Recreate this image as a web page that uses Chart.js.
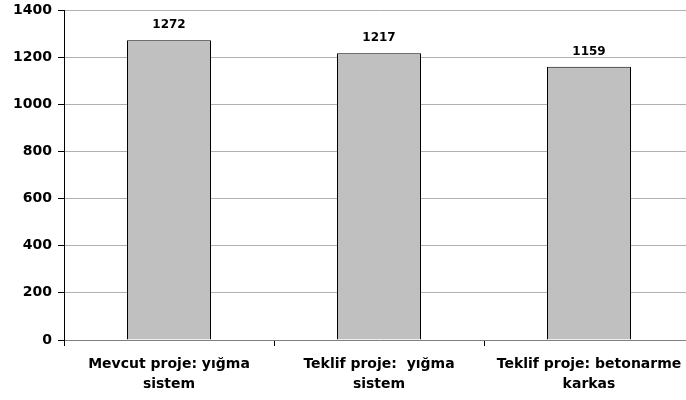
<!DOCTYPE html>
<html>
<head>
<meta charset="utf-8">
<script src="https://cdn.jsdelivr.net/npm/chart.js@4/dist/chart.umd.min.js"></script>
<style>
html,body{margin:0;padding:0;background:#fff;overflow:hidden;width:686px;height:400px;}
#wrap{width:694px;height:400px;}
</style>
</head>
<body>
<div id="wrap"><canvas id="c" width="694" height="400"></canvas></div>
<script>
const categories = [["Mevcut proje: yığma","sistem"],["Teklif proje:  yığma","sistem"],["Teklif proje: betonarme","karkas"]];
const values = [1272, 1217, 1159];
const yTicks = [0, 200, 400, 600, 800, 1000, 1200, 1400];

const FONT = "'DejaVu Sans', sans-serif";

const labelPlugin = {
  id: 'barLabels',
  afterDatasetsDraw(chart) {
    const ctx = chart.ctx;
    const meta = chart.getDatasetMeta(0);
    ctx.save();
    ctx.font = "bold 12px " + FONT;
    ctx.fillStyle = '#000';
    ctx.textAlign = 'center';
    ctx.textBaseline = 'middle';
    meta.data.forEach((el, i) => {
      ctx.fillText(String(values[i]), el.x, el.y - 15);
    });
    ctx.restore();
  }
};

new Chart(document.getElementById('c'), {
  type: 'bar',
  data: {
    labels: categories,
    datasets: [{
      data: values,
      backgroundColor: '#c0c0c0',
      borderColor: '#000',
      borderWidth: 1,
      categoryPercentage: 1,
      barPercentage: 0.4
    }]
  },
  options: {
    responsive: false,
    animation: false,
    devicePixelRatio: 1,
    layout: { padding: { top: 0, right: 0, left: 0, bottom: 0 } },
    plugins: { legend: { display: false }, tooltip: { enabled: false } },
    scales: {
      x: {
        offset: true,
        grid: { offset: true, drawOnChartArea: false, tickLength: 6, color: '#000', tickWidth: 1 },
        border: { color: '#808080', width: 1 },
        ticks: {
          font: { family: FONT, weight: 'bold', size: 14, lineHeight: 1.43 },
          color: '#000',
          padding: 8,
          maxRotation: 0,
          autoSkip: false
        },
        afterFit(s) { s.height = 60; }
      },
      y: {
        min: 0, max: 1400,
        afterBuildTicks(s) { s.ticks = yTicks.map(v => ({ value: v })); },
        grid: { color: '#b0b0b0', borderDash: [2, 1], tickLength: 6, tickColor: '#000', drawTicks: true },
        border: { color: '#000', width: 1 },
        ticks: {
          font: { family: FONT, weight: 'bold', size: 14 },
          color: '#000',
          padding: 6,
          callback: (v) => String(v)
        },
        afterFit(s) { s.width = 64; s.paddingTop = 10; s.paddingBottom = 0; }
      }
    }
  },
  plugins: [labelPlugin]
});
</script>
</body>
</html>
